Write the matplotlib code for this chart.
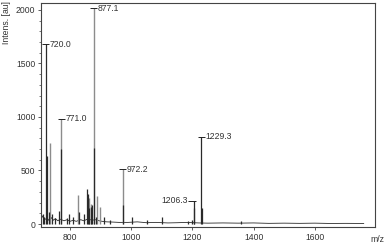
import matplotlib
matplotlib.use("Agg")
import matplotlib.pyplot as plt
from matplotlib.ticker import MultipleLocator

# spectre : pics foncés (spectre 1) et gris (spectre 2)
dark_mz = [712, 716, 720.0, 723, 730, 741, 750, 765, 771.5, 790, 795, 811, 830,
           845, 855.5, 858, 863, 867.5, 872, 878, 885, 910, 930, 972.8, 1002,
           1050, 1100, 1185, 1198, 1205, 1206.3, 1229.3, 1231.5, 1360]
dark_int = [90, 70, 1680, 640, 110, 95, 60, 125, 700, 60, 90, 70, 115,
            90, 325, 280, 150, 160, 180, 710, 70, 70, 40, 175, 70,
            35, 65, 30, 40, 150, 215, 815, 150, 25]

gray_mz = [736, 771.0, 827, 861, 869, 877.1, 889, 897, 972.2]
gray_int = [760, 985, 270, 240, 190, 2015, 260, 160, 510]

# ligne de base (bruit)
base_mz = [705, 708, 712, 716, 725, 732, 740, 745, 752, 760, 768, 780, 790, 800,
           810, 820, 835, 845, 860, 870, 885, 895, 905, 920, 940, 960, 990, 1020,
           1050, 1080, 1120, 1150, 1180, 1220, 1250, 1300, 1350, 1400, 1450, 1500,
           1550, 1600, 1650, 1700, 1760]
base_int = [100, 60, 80, 40, 55, 30, 60, 35, 50, 30, 45, 30, 40, 25,
            35, 25, 40, 30, 50, 35, 40, 30, 25, 20, 18, 15, 15, 20,
            12, 15, 10, 12, 15, 10, 8, 10, 8, 10, 6, 8,
            6, 8, 5, 6, 5]

# pics annotés
label_mz = [720.0, 771.0, 877.1, 972.2, 1206.3, 1229.3]
label_int = [1680, 985, 2015, 510, 215, 815]
label_txt = ["720.0", "771.0", "877.1", "972.2", "1206.3", "1229.3"]
label_left = [False, False, False, False, True, False]

plt.rcParams['font.family'] = ['Liberation Sans', 'DejaVu Sans']
FS = 6.2
TXT = "#333333"

fig = plt.figure(figsize=(3.88, 2.5), dpi=100)
ax = fig.add_axes([0.1057, 0.092, 0.8608, 0.896])

ax.plot(base_mz, base_int, color="#2a2a2a", lw=0.6)
ax.vlines(gray_mz, 0, gray_int, color="#8c8c8c", lw=1.0)
ax.vlines(dark_mz, 0, dark_int, color="#2a2a2a", lw=0.9)

for mz, h, t, left in zip(label_mz, label_int, label_txt, label_left):
    if left:
        ax.hlines(h, mz - 20, mz + 4, color="#222222", lw=0.7)
        ax.text(mz - 22, h, t, fontsize=FS, color=TXT, ha="right", va="center")
    else:
        ax.hlines(h, mz - 12, mz + 12, color="#222222", lw=0.7)
        ax.text(mz + 13, h, t, fontsize=FS, color=TXT, ha="left", va="center")

ax.set_xlim(705, 1797)
ax.set_ylim(-28, 2065)
ax.xaxis.set_major_locator(MultipleLocator(200))
ax.yaxis.set_major_locator(MultipleLocator(500))
ax.yaxis.set_minor_locator(MultipleLocator(100))
ax.tick_params(axis="both", which="major", labelsize=FS, length=2, width=0.6,
               colors="#444444", labelcolor=TXT, pad=2)
ax.tick_params(axis="y", which="minor", length=1.2, width=0.5, colors="#444444")

for s in ax.spines.values():
    s.set_color("#444444")
    s.set_linewidth(0.8)

fig.text(0.018, 0.995, "Intens. [au]", rotation=90, fontsize=FS, color=TXT,
         ha="center", va="top")
fig.text(0.99, 0.04, "m/z", fontsize=FS, color=TXT, ha="right", va="center")

fig.savefig("out.png", dpi=100)
